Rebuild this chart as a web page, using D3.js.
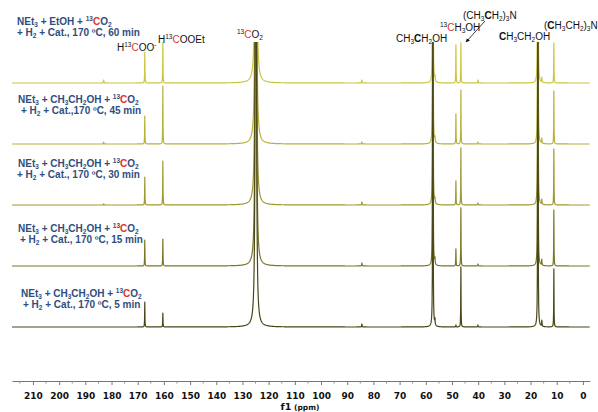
<!DOCTYPE html>
<html>
<head>
<meta charset="utf-8">
<script src="https://cdn.jsdelivr.net/npm/d3@7"></script>
<style>
  body { margin: 0; background: #fff; }
</style>
</head>
<body>
<svg id="chart" width="598" height="412"></svg>
<script>
// ---- data ----
// peak positions (ppm) and half widths (ppm)
const peakPpm   = [183.0, 167.3, 160.4, 124.9, 84.4, 57.3, 56.5, 48.5, 46.6, 40.1, 17.2, 15.7, 11.1];
const peakWidth = [0.08,  0.06,  0.06,  0.12,  0.08, 0.05, 0.08, 0.06, 0.06, 0.08, 0.05, 0.08, 0.06];

// intensities (arbitrary units) per spectrum, top to bottom
const int60 = [3, 31, 41, 1800, 3, 900, 5, 38, 40, 3, 900, 5, 40];
const int45 = [2, 28, 58, 1800, 2, 900, 5, 30, 54, 2, 900, 5, 53];
const int30 = [1, 28, 44, 1800, 3, 900, 5, 24, 57, 2, 900, 5, 56];
const int15 = [0, 26, 27, 1800, 3, 900, 6, 17, 58, 2, 900, 6, 56];
const int05 = [0, 25, 14, 1800, 3, 900, 6,  2, 60, 2, 900, 6, 58];
const spectra = [int60, int45, int30, int15, int05];

const sampleLine1 = [
  "NEt<sub>3</sub> + EtOH + <sup>13</sup><r>C</r>O<sub>2</sub>",
  "NEt<sub>3</sub> + CH<sub>3</sub>CH<sub>2</sub>OH + <sup>13</sup><r>C</r>O<sub>2</sub>",
  "NEt<sub>3</sub> + CH<sub>3</sub>CH<sub>2</sub>OH + <sup>13</sup><r>C</r>O<sub>2</sub>",
  "NEt<sub>3</sub> + CH<sub>3</sub>CH<sub>2</sub>OH + <sup>13</sup><r>C</r>O<sub>2</sub>",
  "NEt<sub>3</sub> + CH<sub>3</sub>CH<sub>2</sub>OH + <sup>13</sup><r>C</r>O<sub>2</sub>"
];
const sampleLine2 = [
  "+ H<sub>2</sub> + Cat., 170 ºC, 60 min",
  "+ H<sub>2</sub> + Cat.,170 ºC, 45 min",
  "+ H<sub>2</sub> + Cat., 170 ºC, 30 min",
  "+ H<sub>2</sub> + Cat., 170 ºC, 15 min",
  "+ H<sub>2</sub> + Cat., 170 ºC, 5 min"
];

const peakLabels = [
  "H<sup>13</sup><r>C</r>OO<sup>-</sup>",
  "H<sup>13</sup><r>C</r>OOEt",
  "<sup>13</sup><r>C</r>O<sub>2</sub>",
  "CH<sub>3</sub><b>C</b>H<sub>2</sub>OH",
  "<sup>13</sup><r>C</r>H<sub>3</sub>OH",
  "(CH<sub>3</sub><b>C</b>H<sub>2</sub>)<sub>3</sub>N",
  "<b>C</b>H<sub>3</sub>CH<sub>2</sub>OH",
  "(<b>C</b>H<sub>3</sub>CH<sub>2</sub>)<sub>3</sub>N"
];

const majorTicks = d3.range(0, 211, 10);
const minorTicks = d3.range(5, 216, 10);

// ---- layout ----
const width = 598, height = 412;
const svg = d3.select("#chart");
const colors = ["#ccc544", "#b8b23c", "#9f9932", "#7b7727", "#494617"];
const red = "#e5321e";
const blue = "#2f4e7e";
const labelFont = "'Liberation Sans', Arial, sans-serif";

const x = d3.scaleLinear().domain([218, -2.7]).range([12, 590]);
const baseY = d3.scaleLinear().domain([0, 4]).range([83, 327]);

// label anchor points [x1, y1, x2, y2]
const samplePos = [[17, 25, 17, 36], [18, 103, 21, 114], [18, 167, 17, 178], [18, 232, 20, 243], [21, 297, 23, 308]];
const peakLabelPos = [[117, 51], [158, 43], [237, 38], [396, 42], [440, 31], [463, 19], [499, 40], [544, 29]];

// clip tall peaks just under the labels
svg.append("defs").append("clipPath").attr("id", "plotclip")
  .append("rect").attr("x", 0).attr("y", 42).attr("width", width).attr("height", 300);

// sample grid + exact peak centres
const grid = d3.range(218, -2.7, -0.1)
  .concat(peakPpm)
  .concat(peakPpm.map(p => p + 0.03), peakPpm.map(p => p - 0.03))
  .sort((a, b) => b - a);

function intensityAt(ppm, ints) {
  let s = 0;
  for (let i = 0; i < peakPpm.length; i++) {
    const g = peakWidth[i], d = ppm - peakPpm[i];
    s += ints[i] * g * g / (d * d + g * g);
  }
  return s;
}

const plot = svg.append("g").attr("clip-path", "url(#plotclip)");

spectra.forEach((ints, k) => {
  const y = d3.scaleLinear().domain([0, 100]).range([baseY(k), baseY(k) - 100]);
  const line = d3.line()
    .x(d => x(d))
    .y(d => Math.max(y(intensityAt(d, ints)), 0));
  plot.append("path")
    .datum(grid)
    .attr("d", line)
    .attr("fill", "none")
    .attr("stroke", colors[k])
    .attr("stroke-width", 1.2)
    .attr("stroke-linejoin", "round");
});

// rich text: <sub>, <sup>, <r> red, <b> bold
function rich(sel, px, py, markup, o) {
  const t = sel.append("text").attr("x", px).attr("y", py)
    .attr("font-family", labelFont).attr("font-size", o.size)
    .attr("font-weight", o.weight).attr("fill", o.color);
  const st = { sub: false, sup: false, r: false, b: false };
  let shift = 0;
  markup.split(/(<\/?[a-z]+>)/).filter(s => s.length).forEach(p => {
    const m = p.match(/^<(\/?)([a-z]+)>$/);
    if (m) { st[m[2]] = !m[1]; return; }
    const target = st.sub ? o.size * 0.22 : st.sup ? -o.size * 0.38 : 0;
    const ts = t.append("tspan").text(p).attr("dy", target - shift);
    shift = target;
    if (st.sub || st.sup) ts.attr("font-size", o.size * 0.65);
    if (st.r) ts.attr("fill", red);
    if (st.b) ts.attr("font-weight", "bold");
  });
}

sampleLine1.forEach((s, k) => {
  const p = samplePos[k];
  rich(svg, p[0], p[1], s, { size: 10, weight: "bold", color: blue });
  rich(svg, p[2], p[3], sampleLine2[k], { size: 10, weight: "bold", color: blue });
});

peakLabels.forEach((s, k) => {
  const p = peakLabelPos[k];
  rich(svg, p[0], p[1], s, { size: 10, weight: "normal", color: "#111" });
});

// arrow from (CH3CH2)3N label to its peak
svg.append("defs").append("marker").attr("id", "arrowhead")
  .attr("viewBox", "0 0 10 10").attr("refX", 9).attr("refY", 5)
  .attr("markerWidth", 5).attr("markerHeight", 5).attr("orient", "auto")
  .append("path").attr("d", "M0,0L10,5L0,10z").attr("fill", "#111");
svg.append("line")
  .attr("x1", 485).attr("y1", 21).attr("x2", 466).attr("y2", 42)
  .attr("stroke", "#111").attr("stroke-width", 0.8)
  .attr("marker-end", "url(#arrowhead)");

// ppm axis
const axisY = 381;
const axis = svg.append("g").attr("transform", `translate(0,${axisY})`)
  .call(d3.axisBottom(x).tickValues(majorTicks).tickSize(4).tickSizeOuter(0).tickPadding(8));
axis.select(".domain").attr("stroke", "#777");
axis.selectAll(".tick line").attr("stroke", "#777");
axis.selectAll(".tick text")
  .attr("font-family", "'DejaVu Sans', sans-serif")
  .attr("font-size", 9).attr("font-weight", "bold").attr("fill", "#111");

axis.selectAll(".minor").data(minorTicks).join("line")
  .attr("class", "minor")
  .attr("x1", d => x(d)).attr("x2", d => x(d))
  .attr("y1", 0).attr("y2", 2.5).attr("stroke", "#888");

const xt = svg.append("text").attr("x", 300).attr("y", 410).attr("text-anchor", "middle")
  .attr("font-family", "'DejaVu Sans', sans-serif").attr("fill", "#111");
xt.append("tspan").attr("font-size", 9.5).attr("font-weight", "bold").text("f1");
xt.append("tspan").attr("font-size", 7.5).attr("font-weight", "bold").text(" (ppm)");
</script>
</body>
</html>
